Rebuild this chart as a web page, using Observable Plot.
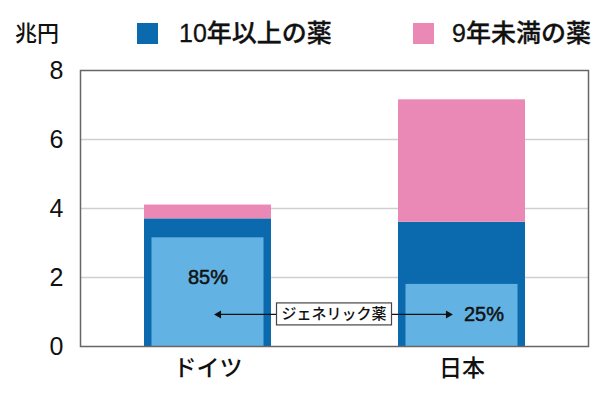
<!DOCTYPE html>
<html>
<head>
<meta charset="utf-8">
<script src="https://cdn.jsdelivr.net/npm/d3@7"></script>
<script src="https://cdn.jsdelivr.net/npm/@observablehq/plot@0.6"></script>
<style>
  body { margin: 0; background: #fff; }
  #wrap { position: relative; width: 610px; font-family: "Liberation Sans", "Noto Sans CJK JP", sans-serif; color: #111; }
  #legend { position: relative; height: 50px; font-size: 25px; font-weight: 500; }
  #legend .t { position: absolute; top: 19px; line-height: 28px; white-space: nowrap; -webkit-text-stroke: 0.3px #111; }
  #legend .sw { position: absolute; top: 23px; width: 21px; height: 21px; }
  #unit { position: absolute; left: 15px; top: 20px; font-size: 22px; line-height: 28px; }
</style>
</head>
<body>
<div id="wrap">
  <div id="legend"></div>
  <div id="chart"></div>
</div>
<script>
// ---- data ----
const countries = ["ドイツ", "日本"];
const seriesNames = ["10年以上の薬", "9年未満の薬"];
const over10 = [3.7, 3.6];       // 兆円
const under9 = [0.4, 3.55];      // 兆円
const generic = [3.15, 1.8];     // ジェネリック薬
const genericShare = ["85%", "25%"];
const yTicks = [0, 2, 4, 6, 8];
const unitLabel = "兆円";
const genericLabel = "ジェネリック薬";
const arrowLevel = [0.93];
const shareLevel = [2.0, 0.93];

const colors = ["#0a6aad", "#ea89b5"];
const lightBlue = "#62b3e4";

// ---- legend (HTML) ----
const legend = document.getElementById("legend");
legend.innerHTML =
  `<span id="unit">${unitLabel}</span>` +
  `<span class="sw" style="left:137px;background:${colors[0]}"></span>` +
  `<span class="t" style="left:179px">${seriesNames[0]}</span>` +
  `<span class="sw" style="left:413px;background:${colors[1]}"></span>` +
  `<span class="t" style="left:452px">${seriesNames[1]}</span>`;

// ---- tables ----
const stacked = [];
countries.forEach((c, i) => {
  stacked.push({country: c, type: seriesNames[0], value: over10[i]});
  stacked.push({country: c, type: seriesNames[1], value: under9[i]});
});
const gen = countries.map((c, i) => ({country: c, value: generic[i], share: genericShare[i], level: shareLevel[i]}));

const boxMark = (index, scales, values, dimensions) => {
  const {width, marginLeft, marginRight} = dimensions;
  const cx = marginLeft + (width - marginLeft - marginRight) / 2;
  const cy = scales.y(arrowLevel[0]);
  const w = genericLabel.length * 15 + 10, h = 22;
  const g = d3.create("svg:g");
  g.append("rect").attr("x", cx - w / 2).attr("y", cy - h / 2).attr("width", w).attr("height", h)
    .attr("fill", "white").attr("stroke", "#444").attr("stroke-width", 1.2);
  g.append("text").attr("x", cx).attr("y", cy).attr("text-anchor", "middle").attr("dy", "0.36em")
    .attr("font-size", 15).attr("font-weight", 500).attr("fill", "#111")
    .attr("font-family", "'Noto Sans CJK JP', sans-serif").text(genericLabel);
  return g.node();
};

const chart = Plot.plot({
  width: 610,
  height: 348,
  marginTop: 20,
  marginBottom: 52,
  marginLeft: 80,
  marginRight: 22,
  style: {fontFamily: "'Liberation Sans', 'Noto Sans CJK JP', sans-serif", color: "#111", background: "white"},
  x: {domain: countries, paddingInner: 0.5, paddingOuter: 0.25, axis: null},
  y: {domain: [0, 8], axis: null},
  color: {domain: seriesNames, range: colors},
  marks: [
    Plot.ruleY([2, 4, 6], {stroke: "#cfcfcf", strokeWidth: 1.5}),
    Plot.barY(stacked, {x: "country", y: "value", fill: "type"}),
    Plot.barY(gen, {x: "country", y: "value", fill: lightBlue, insetLeft: 7.5, insetRight: 7.5}),
    Plot.frame({stroke: "#666", strokeWidth: 1.5}),
    Plot.axisY(yTicks, {tickSize: 0, tickPadding: 17, fontSize: 25, label: null, fill: "#111", stroke: "#111", strokeWidth: 0.7}),
    Plot.axisX({tickSize: 0, tickPadding: 13, fontSize: 23, fontWeight: 500, label: null, fill: "#111", fontFamily: "'Noto Sans CJK JP', sans-serif"}),
    Plot.arrow(arrowLevel, {x1: () => countries[0], x2: () => countries[1], y1: d => d, y2: d => d, insetStart: 10, insetEnd: 13, headLength: 0, stroke: "#111", strokeWidth: 1.3}),
    Plot.dot(arrowLevel, {x: () => countries[0], y: d => d, symbol: "triangle", r: 3, rotate: -90, dx: 10.7, fill: "#111", stroke: "none"}),
    Plot.dot(arrowLevel, {x: () => countries[1], y: d => d, symbol: "triangle", r: 3, rotate: 90, dx: -13.7, fill: "#111", stroke: "none"}),
    boxMark,
    Plot.text(gen.slice(0, 1), {x: "country", y: "level", text: "share", fontSize: 20, fill: "#111", stroke: "#111", strokeWidth: 0.5}),
    Plot.text(gen.slice(1), {x: "country", y: "level", text: "share", fontSize: 20, fill: "#111", stroke: "#111", strokeWidth: 0.5, dx: 22})
  ]
});
document.getElementById("chart").appendChild(chart);
</script>
</body>
</html>
